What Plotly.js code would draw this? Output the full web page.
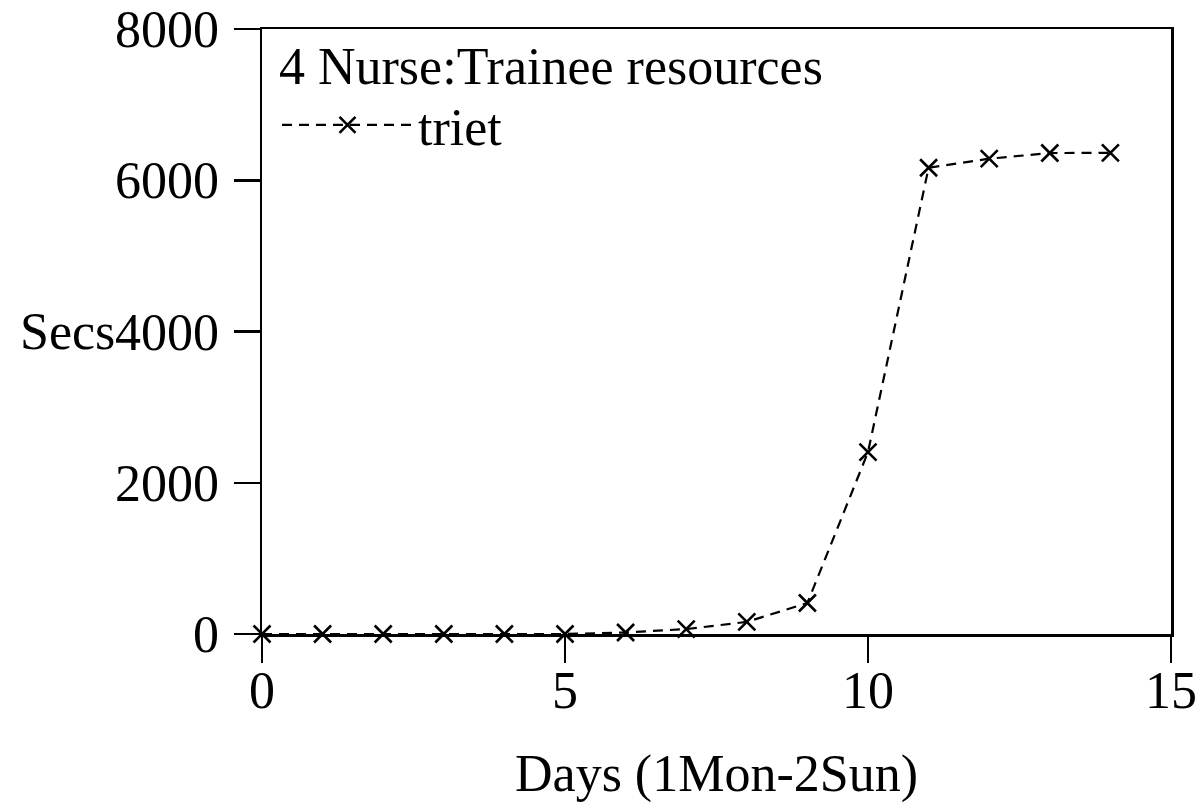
<!DOCTYPE html>
<html>
<head>
<meta charset="utf-8">
<script src="https://cdn.plot.ly/plotly-3.0.1.min.js"></script>
<style>html,body{margin:0;padding:0;background:#fff;}#chart{width:1201px;height:805px;}</style>
</head>
<body>
<div id="chart"></div>
<script>
const days = [0, 1, 2, 3, 4, 5, 6, 7, 8, 9, 10, 11, 12, 13, 14];
const secs = [0, 0, 0, 0, 0, 0, 20, 65, 160, 410, 2405, 6165, 6285, 6360, 6362];
const seriesName = 'triet';
const legendTitle = '4 Nurse:Trainee resources';
const xTitle = 'Days (1Mon-2Sun)';
const yTitle = 'Secs';
const xTicks = [0, 5, 10, 15];
const yTicks = [0, 2000, 4000, 6000, 8000];

const FONT = 'Liberation Serif, Times New Roman, serif';

const trace = {
  x: days,
  y: secs,
  name: seriesName,
  type: 'scatter',
  mode: 'lines+markers',
  cliponaxis: false,
  line: {color: '#000', width: 2.2, dash: '10px,7px'},
  marker: {symbol: 'x-thin', size: 17, color: '#000', line: {color: '#000', width: 2.6}},
  showlegend: true
};

const axisCommon = {
  showline: true,
  linecolor: '#000',
  linewidth: 2.5,
  mirror: true,
  ticks: 'outside',
  ticklen: 26,
  tickwidth: 2.5,
  tickcolor: '#000',
  showgrid: false,
  zeroline: false,
  tickfont: {family: FONT, size: 52, color: '#000'}
};

const layout = {
  width: 1201,
  height: 805,
  margin: {l: 262, r: 30, t: 29, b: 171},
  paper_bgcolor: '#fff',
  plot_bgcolor: '#fff',
  font: {family: FONT, size: 52, color: '#000'},
  showlegend: true,
  xaxis: Object.assign({}, axisCommon, {
    range: [0, 15],
    tickvals: xTicks,
    ticktext: xTicks.map(String),
    ticklabelstandoff: -17,
    title: {text: xTitle, font: {family: FONT, size: 52, color: '#000'}, standoff: 37}
  }),
  yaxis: Object.assign({}, axisCommon, {
    range: [0, 8000],
    tickvals: yTicks,
    ticktext: yTicks.map(String),
    ticklabelstandoff: 4
  }),
  legend: {
    x: 0.0165, y: 1.02, xanchor: 'left', yanchor: 'top',
    bgcolor: 'rgba(0,0,0,0)',
    borderwidth: 0,
    itemwidth: 131,
    font: {family: FONT, size: 52, color: '#000'},
    title: {text: legendTitle, font: {family: FONT, size: 52, color: '#000'}}
  },
  annotations: [{
    text: yTitle,
    xref: 'paper', yref: 'y',
    x: 0, y: 4000,
    xanchor: 'right', yanchor: 'middle',
    xshift: -145,
    showarrow: false,
    font: {family: FONT, size: 52, color: '#000'}
  }]
};

Plotly.newPlot('chart', [trace], layout, {staticPlot: true, displayModeBar: false});
</script>
</body>
</html>
